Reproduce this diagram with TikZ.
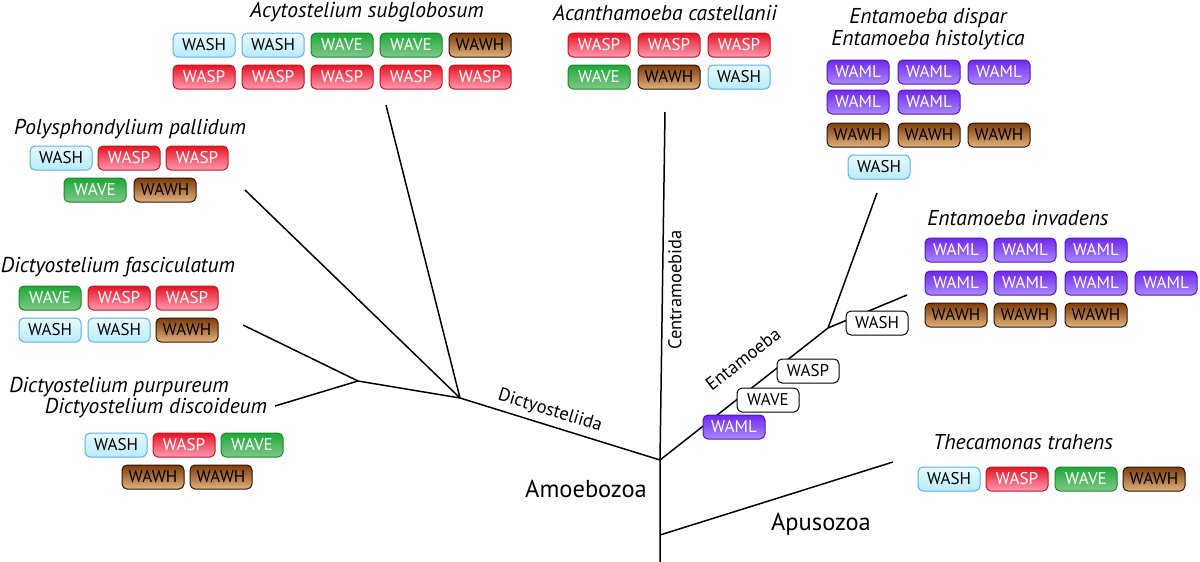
\documentclass[tikz,border=0pt]{standalone}
\usepackage{fontspec}
\setmainfont{PT Sans}
\definecolor{washT}{HTML}{E6FAFF}
\definecolor{washB}{HTML}{B8ECFB}
\definecolor{washD}{HTML}{5FAEE6}
\definecolor{waspT}{HTML}{E41424}
\definecolor{waspB}{HTML}{FF9CB2}
\definecolor{waspD}{HTML}{C8141E}
\definecolor{waveT}{HTML}{1EA838}
\definecolor{waveB}{HTML}{80C888}
\definecolor{waveD}{HTML}{1A8A2C}
\definecolor{wawhT}{HTML}{7E3C0A}
\definecolor{wawhB}{HTML}{E2B27C}
\definecolor{wawhD}{HTML}{2A1608}
\definecolor{wamlT}{HTML}{7028EC}
\definecolor{wamlB}{HTML}{A888FA}
\definecolor{wamlD}{HTML}{5418C4}
\tikzset{
  gbox/.style={rounded corners=5pt, minimum width=62pt, minimum height=24pt, inner sep=0pt,
    font=\fontsize{17}{17}\selectfont, line width=1pt},
  wash/.style={gbox, draw=washD, top color=washT, bottom color=washB, text=black},
  wasp/.style={gbox, draw=waspD, top color=waspT, bottom color=waspB, text=white},
  wave/.style={gbox, draw=waveD, top color=waveT, bottom color=waveB, text=white},
  wawh/.style={gbox, draw=wawhD, top color=wawhT, bottom color=wawhB, text=black},
  waml/.style={gbox, draw=wamlD, top color=wamlT, bottom color=wamlB, text=white},
  plain/.style={gbox, draw=black, fill=white, text=black},
  taxon/.style={font=\fontsize{21.5}{22}\selectfont\itshape, inner sep=0pt},
  clade/.style={font=\fontsize{18.5}{18.5}\selectfont, inner sep=0pt},
  big/.style={font=\fontsize{24.5}{24.5}\selectfont, inner sep=0pt},
  branch/.style={line width=1.5pt, black}
}
\begin{document}
\begin{tikzpicture}[x=1pt,y=-1pt]
\useasboundingbox[fill=white] (0,0) rectangle (1200,562);
% tree coordinates
\coordinate (root) at (660,460);
\coordinate (rootbot) at (660,562);
\coordinate (cen) at (665,112);
\coordinate (apu) at (660,535);
\coordinate (apuend) at (893,462);
\coordinate (dic) at (460,398);
\coordinate (acy) at (386,105);
\coordinate (pol) at (245,190);
\coordinate (dd) at (358,381);
\coordinate (fas) at (243,325);
\coordinate (pur) at (275,406);
\coordinate (ent) at (828,328);
\coordinate (his) at (877,193);
\coordinate (inv) at (907,295);
\draw[branch] (cen) -- (root) -- (rootbot);
\draw[branch] (apu) -- (apuend);
\draw[branch] (root) -- (dic);
\draw[branch] (dic) -- (acy);
\draw[branch] (dic) -- (pol);
\draw[branch] (dic) -- (dd);
\draw[branch] (dd) -- (fas);
\draw[branch] (dd) -- (pur);
\draw[branch] (root) -- (ent);
\draw[branch] (ent) -- (his);
\draw[branch] (ent) -- (inv);
% clade labels
\node[clade, rotate=38] (lent) at (743,359) {Entamoeba};
\node[clade, rotate=90] (lcen) at (675,290) {Centramoebida};
\node[clade, rotate=-17] (ldic) at (550,411) {Dictyosteliida};
\node[big] (lamo) at (586,489) {Amoebozoa};
\node[big] (lapu) at (821,524) {Apusozoa};
% branch boxes
\node[waml] (bwaml) at (734,427) {WAML};
\node[plain] (bwave) at (768,400) {WAVE};
\node[plain] (bwasp) at (808,371) {WASP};
\node[plain] (bwash) at (877,323) {WASH};
% Acytostelium subglobosum
\node[taxon] (tacy) at (367,12) {Acytostelium subglobosum};
\node[wash] (acy1) at (204,45) {WASH};
\node[wash] (acy2) at (273,45) {WASH};
\node[wave] (acy3) at (342,45) {WAVE};
\node[wave] (acy4) at (411,45) {WAVE};
\node[wawh] (acy5) at (480,45) {WAWH};
\node[wasp] (acy6) at (204,77) {WASP};
\node[wasp] (acy7) at (273,77) {WASP};
\node[wasp] (acy8) at (342,77) {WASP};
\node[wasp] (acy9) at (411,77) {WASP};
\node[wasp] (acy10) at (480,77) {WASP};
% Acanthamoeba castellanii
\node[taxon] (tcas) at (665,13) {Acanthamoeba castellanii};
\node[wasp] (cas1) at (599,45) {WASP};
\node[wasp] (cas2) at (669,45) {WASP};
\node[wasp] (cas3) at (739,45) {WASP};
\node[wave] (cas4) at (599,77) {WAVE};
\node[wawh] (cas5) at (669,77) {WAWH};
\node[wash] (cas6) at (739,77) {WASH};
% Entamoeba dispar / histolytica
\node[taxon, align=center] (this) at (928,29) {Entamoeba dispar\\Entamoeba histolytica};
\node[waml] (his1) at (858,72) {WAML};
\node[waml] (his2) at (929,72) {WAML};
\node[waml] (his3) at (999,72) {WAML};
\node[waml] (his4) at (858,102) {WAML};
\node[waml] (his5) at (929,102) {WAML};
\node[wawh] (his6) at (858,135) {WAWH};
\node[wawh] (his7) at (929,135) {WAWH};
\node[wawh] (his8) at (999,135) {WAWH};
\node[wash] (his9) at (879,167) {WASH};
% Entamoeba invadens
\node[taxon] (tinv) at (1018,218) {Entamoeba invadens};
\node[waml] (inv1) at (956,250) {WAML};
\node[waml] (inv2) at (1025,250) {WAML};
\node[waml] (inv3) at (1096,250) {WAML};
\node[waml] (inv4) at (956,283) {WAML};
\node[waml] (inv5) at (1025,283) {WAML};
\node[waml] (inv6) at (1096,283) {WAML};
\node[waml] (inv7) at (1166,283) {WAML};
\node[wawh] (inv8) at (956,315) {WAWH};
\node[wawh] (inv9) at (1025,315) {WAWH};
\node[wawh] (inv10) at (1096,315) {WAWH};
% Polysphondylium pallidum
\node[taxon] (tpol) at (130,129) {Polysphondylium pallidum};
\node[wash] (pol1) at (61,158) {WASH};
\node[wasp] (pol2) at (129,158) {WASP};
\node[wasp] (pol3) at (197,158) {WASP};
\node[wave] (pol4) at (95,190) {WAVE};
\node[wawh] (pol5) at (165,190) {WAWH};
% Dictyostelium fasciculatum
\node[taxon] (tfas) at (118,267) {Dictyostelium fasciculatum};
\node[wave] (fas1) at (50,298) {WAVE};
\node[wasp] (fas2) at (119,298) {WASP};
\node[wasp] (fas3) at (187,298) {WASP};
\node[wash] (fas4) at (50,330) {WASH};
\node[wash] (fas5) at (119,330) {WASH};
\node[wawh] (fas6) at (187,330) {WAWH};
% Dictyostelium purpureum / discoideum
\node[taxon] (tpur) at (119,387) {Dictyostelium purpureum};
\node[taxon] (tdis) at (156,408) {Dictyostelium discoideum};
\node[wash] (pur1) at (116,445) {WASH};
\node[wasp] (pur2) at (184,445) {WASP};
\node[wave] (pur3) at (252,445) {WAVE};
\node[wawh] (pur4) at (153,477) {WAWH};
\node[wawh] (pur5) at (221,477) {WAWH};
% Thecamonas trahens
\node[taxon] (tthe) at (1023,442) {Thecamonas trahens};
\node[wash] (the1) at (949,479) {WASH};
\node[wasp] (the2) at (1017,479) {WASP};
\node[wave] (the3) at (1086,479) {WAVE};
\node[wawh] (the4) at (1154,479) {WAWH};
\end{tikzpicture}
\end{document}
